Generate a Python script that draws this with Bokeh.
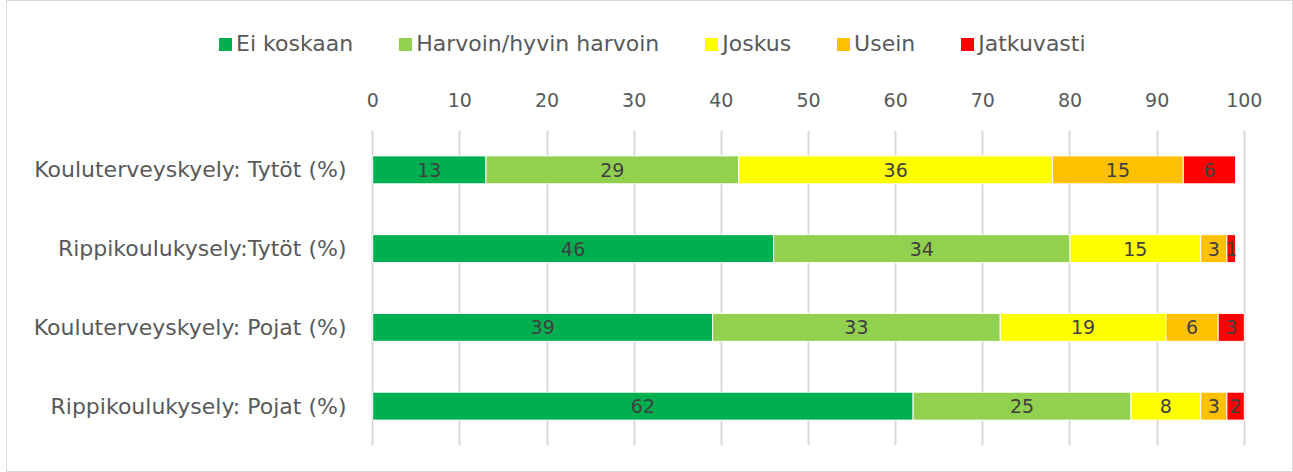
from bokeh.plotting import figure
from bokeh.layouts import column
from bokeh.models import ColumnDataSource, FactorRange, Range1d, LinearAxis, FixedTicker, LabelSet, Div
from bokeh.embed import file_html
from bokeh.resources import INLINE
from bokeh.core.properties import value

categories = ["Kouluterveyskyely: Tytöt (%)", "Rippikoulukysely:Tytöt (%)",
              "Kouluterveyskyely: Pojat (%)", "Rippikoulukysely: Pojat (%)"]
series = ["Ei koskaan", "Harvoin/hyvin harvoin", "Joskus", "Usein", "Jatkuvasti"]
ei_koskaan = [13, 46, 39, 62]
harvoin = [29, 34, 33, 25]
joskus = [36, 15, 19, 8]
usein = [15, 3, 6, 3]
jatkuvasti = [6, 1, 3, 2]
colors = ["#00B050", "#92D050", "#FFFF00", "#FFC000", "#FF0000"]
x_ticks = [0, 10, 20, 30, 40, 50, 60, 70, 80, 90, 100]

FONT = "DejaVu Sans"
values = [ei_koskaan, harvoin, joskus, usein, jatkuvasti]
W = 1285

# main chart
p = figure(width=W, height=408, y_range=FactorRange(*reversed(categories), range_padding=0),
           x_range=Range1d(-0.25, 100.25), output_backend="svg", toolbar_location=None,
           x_axis_location=None, min_border_left=363, min_border_right=46,
           min_border_top=67, min_border_bottom=26)
p.outline_line_color = None

left = [0] * len(categories)
for name, vals, col in zip(series, values, colors):
    right = [l + v for l, v in zip(left, vals)]
    src = ColumnDataSource(dict(cat=categories, left=left, right=right,
                                mid=[(l + r) / 2 for l, r in zip(left, right)],
                                lab=[str(v) for v in vals]))
    p.hbar(y="cat", left="left", right="right", height=0.355, source=src,
           fill_color=col, line_color="white", line_width=1)
    p.add_layout(LabelSet(x="mid", y="cat", text="lab", source=src, text_align="center",
                          text_baseline="middle", text_font=value(FONT), text_font_size="19px",
                          text_color="#404040"))
    left = right

xaxis = LinearAxis(ticker=FixedTicker(ticks=x_ticks))
xaxis.axis_line_color = None
xaxis.major_tick_line_color = None
xaxis.minor_tick_line_color = None
xaxis.major_label_text_font = FONT
xaxis.major_label_text_font_size = "19px"
xaxis.major_label_text_color = "#595959"
xaxis.major_label_standoff = 18
p.add_layout(xaxis, "above")

p.yaxis.axis_line_color = None
p.yaxis.major_tick_line_color = None
p.yaxis.minor_tick_line_color = None
p.yaxis.major_label_text_font = FONT
p.yaxis.major_label_text_font_size = "22px"
p.yaxis.major_label_text_color = "#595959"
p.yaxis.major_label_standoff = 18

p.xgrid.ticker = FixedTicker(ticks=x_ticks)
p.xgrid.grid_line_color = "#d9d9d9"
p.xgrid.grid_line_width = 2
p.ygrid.grid_line_color = None

# legend strip (HTML text)
entries = "".join(
    f'<span style="display:inline-flex;align-items:center;margin-right:46px;">'
    f'<span style="display:inline-block;width:13px;height:13px;background:{c};margin-right:4px;"></span>'
    f'{name}</span>'
    for name, c in zip(series, colors))
legend_html = (f'<div style="display:flex;align-items:center;padding-left:212px;padding-top:30px;'
               f'white-space:nowrap;font-family:\'{FONT}\';font-size:22px;color:#595959;line-height:26px;">'
               f'{entries}</div>')
lg = Div(text=legend_html, width=W, height=62, margin=0)

layout = column(lg, p, spacing=0)
layout.styles = {"border": "1px solid #d9d9d9", "margin-left": "6px"}

open("out.html", "w").write(file_html(layout, INLINE))
